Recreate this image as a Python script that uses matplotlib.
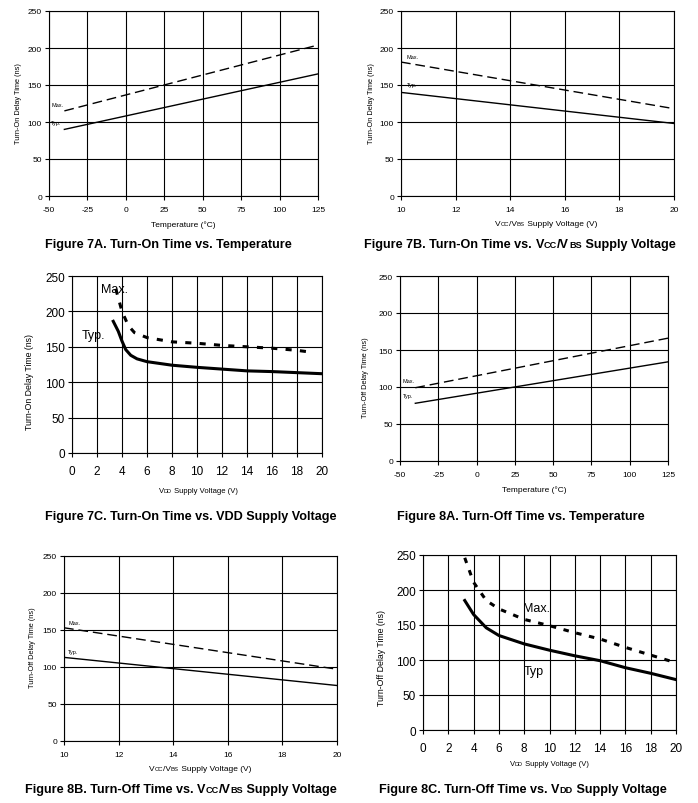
import matplotlib
matplotlib.use("Agg")
import matplotlib.pyplot as plt
from matplotlib.offsetbox import TextArea, HPacker, AnnotationBbox

plt.rcParams["font.family"] = ["Liberation Sans", "DejaVu Sans"]
plt.rcParams["axes.unicode_minus"] = False

W, H = 698, 804

# Figure 7A: turn-on time vs temperature
temp_7a = [-40, 125]
max_7a = [115, 204]
typ_7a = [90, 165]

# Figure 7B: turn-on time vs Vcc/Vbs
vcc_7b = [10, 20]
max_7b = [181, 118]
typ_7b = [140, 98]

# Figure 7C: turn-on time vs VDD
vdd_typ_7c = [3.3, 3.7, 4.0, 4.3, 4.7, 5.2, 6, 8, 10, 12, 14, 16, 18, 20]
typ_7c = [186, 172, 158, 146, 138, 133, 129, 124, 121, 118.5, 116, 115, 113.5, 112]
vdd_max_7c = [3.5, 4.0, 4.5, 5, 6, 7, 8, 10, 12, 14, 16, 18, 19.3]
max_7c = [232, 200, 180, 170, 163, 160, 157, 155, 152, 150, 148, 145, 142]

# Figure 8A: turn-off time vs temperature
temp_8a = [-40, 125]
max_8a = [99, 166]
typ_8a = [78, 134]

# Figure 8B: turn-off time vs Vcc/Vbs
vcc_8b = [10, 20]
max_8b = [153, 97]
typ_8b = [113, 75]

# Figure 8C: turn-off time vs VDD
vdd_typ_8c = [3.3, 4.0, 5, 6, 8, 10, 12, 14, 16, 18, 20]
typ_8c = [185, 165, 146, 135, 123, 114, 106, 99, 89, 81, 72]
vdd_max_8c = [3.3, 4.0, 5, 6, 8, 10, 12, 14, 16, 18, 20]
max_8c = [246, 211, 185, 173, 158, 149, 139, 130, 118, 107, 96]

temp_ticks = [-50, -25, 0, 25, 50, 75, 100, 125]
vcc_ticks = [10, 12, 14, 16, 18, 20]
vdd_ticks = [0, 2, 4, 6, 8, 10, 12, 14, 16, 18, 20]
time_ticks = [0, 50, 100, 150, 200, 250]

fig = plt.figure(figsize=(W / 100, H / 100), dpi=100)


def axes_px(l, t, r, b):
    return fig.add_axes([l / W, 1 - b / H, (r - l) / W, (b - t) / H])


def style(ax, xticks, tick_size, xpad):
    ax.set_xlim(xticks[0], xticks[-1])
    ax.set_ylim(0, 250)
    ax.set_xticks(xticks)
    ax.set_yticks(time_ticks)
    ax.grid(True, color="black", lw=0.8)
    ax.set_axisbelow(True)
    for s in ax.spines.values():
        s.set_linewidth(0.8)
    ax.tick_params(direction="out", length=3, width=0.8, labelsize=tick_size, pad=2)
    ax.tick_params(axis="x", pad=xpad)


def mixed(x, y, parts, size, bold=False):
    # text with small caps bits, e.g. Vcc -> "V" + small "CC"
    kids = []
    for s, small in parts:
        kids.append(TextArea(s, textprops=dict(size=size * 0.72 if small else size,
                                               weight="bold" if bold else "normal",
                                               family=["Liberation Sans", "DejaVu Sans"])))
    box = HPacker(children=kids, align="baseline", pad=0, sep=0)
    ab = AnnotationBbox(box, (x, H - y), xycoords="figure pixels", frameon=False,
                        box_alignment=(0.5, 0.5), pad=0)
    fig.add_artist(ab)


def ylab(x, y, s, size):
    fig.text(x / W, 1 - y / H, s, rotation=90, ha="center", va="center", fontsize=size)


def caption(x, y, parts):
    mixed(x, y, parts, 9.1, bold=True)


VCC = [("V", False), ("CC", True), ("/V", False), ("BS", True)]
VDD = [("V", False), ("DD", True)]

# ---- 7A
ax = axes_px(49, 12, 318, 197)
style(ax, temp_ticks, 6, 4)
ax.plot(temp_7a, max_7a, color="black", lw=1.0, dashes=(7, 3.5))
ax.plot(temp_7a, typ_7a, color="black", lw=1.0)
ax.text(-48.5, 124, "Max.", fontsize=4, va="center")
ax.text(-48.5, 100, "Typ.", fontsize=4, va="center")
mixed(183, 225, [("Temperature (°C)", False)], 6)
ylab(19, 104, "Turn-On Delay Time (ns)", 5.3)
caption(168, 245, [("Figure 7A. Turn-On Time vs. Temperature", False)])

# ---- 7B
ax = axes_px(401, 12, 674, 197)
style(ax, vcc_ticks, 6, 4)
ax.plot(vcc_7b, max_7b, color="black", lw=1.0, dashes=(7, 3.5))
ax.plot(vcc_7b, typ_7b, color="black", lw=1.0)
ax.text(10.2, 189, "Max.", fontsize=4, va="center")
ax.text(10.2, 150, "Typ.", fontsize=4, va="center")
mixed(546, 225, VCC + [(" Supply Voltage (V)", False)], 6)
ylab(371, 104, "Turn-On Delay Time (ns)", 5.3)
caption(520, 245, [("Figure 7B. Turn-On Time vs. ", False)] + VCC + [(" Supply Voltage", False)])

# ---- 7C
ax = axes_px(72, 277, 322, 454)
style(ax, vdd_ticks, 8.5, 6)
ax.plot(vdd_max_7c, max_7c, color="black", lw=2.2, linestyle=(0, (2, 2.7)))
ax.plot(vdd_typ_7c, typ_7c, color="black", lw=2.2)
ax.text(2.3, 232, "Max.", fontsize=9, va="center")
ax.text(0.75, 167, "Typ.", fontsize=9, va="center")
mixed(198, 492, VDD + [(" Supply Voltage (V)", False)], 5.5)
ylab(29, 382, "Turn-On Delay Time (ns)", 6.3)
caption(191, 517, [("Figure 7C. Turn-On Time vs. VDD Supply Voltage", False)])

# ---- 8A
ax = axes_px(400, 277, 668, 462)
style(ax, temp_ticks, 6, 4)
ax.plot(temp_8a, max_8a, color="black", lw=1.0, dashes=(7, 3.5))
ax.plot(temp_8a, typ_8a, color="black", lw=1.0)
ax.text(-48.3, 108.5, "Max.", fontsize=4, va="center")
ax.text(-48.3, 88, "Typ.", fontsize=4, va="center")
mixed(534, 490, [("Temperature (°C)", False)], 6)
ylab(366, 378, "Turn-Off Delay Time (ns)", 5.3)
caption(521, 517, [("Figure 8A. Turn-Off Time vs. Temperature", False)])

# ---- 8B
ax = axes_px(64, 557, 337, 742)
style(ax, vcc_ticks, 6, 4)
ax.plot(vcc_8b, max_8b, color="black", lw=1.0, dashes=(7, 3.5))
ax.plot(vcc_8b, typ_8b, color="black", lw=1.0)
ax.text(10.15, 160, "Max.", fontsize=4, va="center")
ax.text(10.15, 121, "Typ.", fontsize=4, va="center")
mixed(200, 770, VCC + [(" Supply Voltage (V)", False)], 6)
ylab(33, 648, "Turn-Off Delay Time (ns)", 5.3)
caption(181, 790, [("Figure 8B. Turn-Off Time vs. ", False)] + VCC + [(" Supply Voltage", False)])

# ---- 8C
ax = axes_px(423, 556, 676, 731)
style(ax, vdd_ticks, 8.5, 6)
ax.plot(vdd_max_8c, max_8c, color="black", lw=2.2, linestyle=(0, (1.8, 2.5)))
ax.plot(vdd_typ_8c, typ_8c, color="black", lw=2.2)
ax.text(7.9, 175, "Max.", fontsize=9, va="center")
ax.text(8.0, 84, "Typ", fontsize=9, va="center")
mixed(549, 765, VDD + [(" Supply Voltage (V)", False)], 5.5)
ylab(382, 658, "Turn-Off Delay Time (ns)", 6.3)
caption(523, 790, [("Figure 8C. Turn-Off Time vs. ", False)] + VDD + [(" Supply Voltage", False)])

fig.savefig("out.png", dpi=100)
